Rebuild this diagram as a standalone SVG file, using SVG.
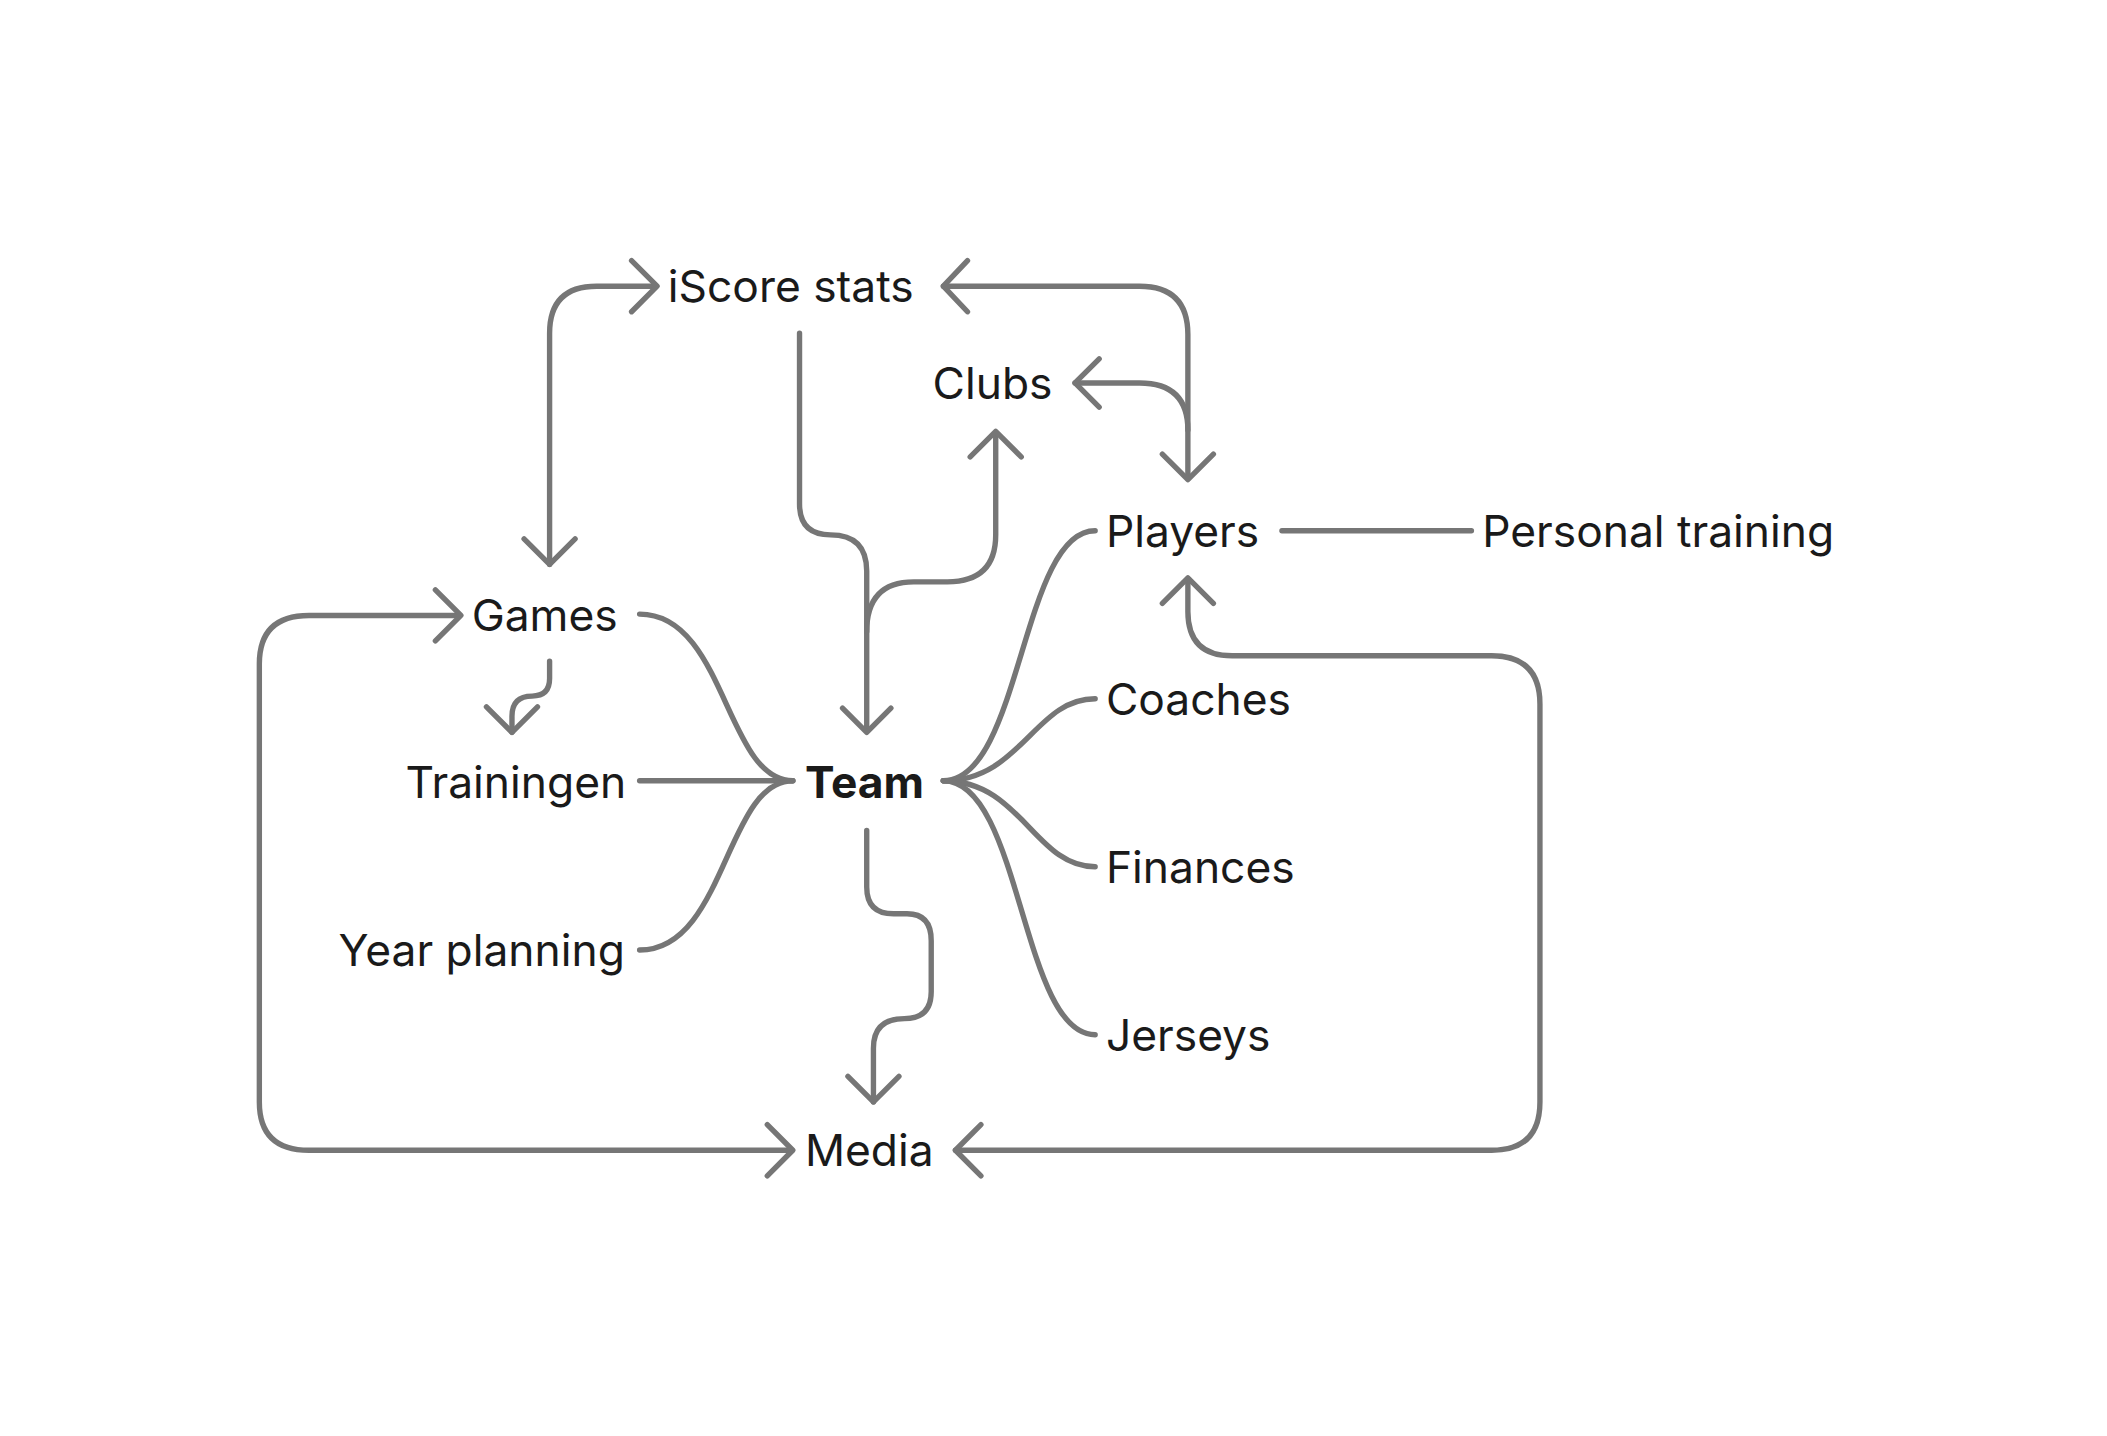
<svg xmlns="http://www.w3.org/2000/svg" width="2107" height="1436" viewBox="0 0 2107 1436">
<style>
.c{fill:none;stroke:#767676;stroke-width:4;stroke-linecap:round;stroke-linejoin:round}
text{font-family:Inter,"Noto Sans",sans-serif;font-size:33px;fill:#1a1a1a;dominant-baseline:central}
.b{font-weight:bold}
</style>
<rect width="2107" height="1436" fill="#fff"/>
<g transform="scale(1.34375)">
<g id="connectors" class="c">
<path d="M409,420 L409,248 Q409,213 444,213 L488,213"/>
<polyline points="470,194 489,213 470,232"/>
<polyline points="390,401 409,420 428,401"/>
<path d="M702,213 L848,213 Q884,213 884,249 L884,356"/>
<polyline points="720,194 702,213 720,232"/>
<polyline points="865,338 884,357 903,338"/>
<path d="M800,285 L848,285 Q884,285 884,320"/>
<polyline points="818,267 800,285 818,303"/>
<path d="M595,248 L595,375 Q595,398 618,398 Q645,398 645,425 L645,544"/>
<polyline points="627,527 645,545 663,527"/>
<path d="M645,470 Q645,433 680,433 L705,433 Q741,433 741,398 L741,322"/>
<polyline points="722,340 741,321 760,340"/>
<path d="M409,492 L409,505 Q409,518 396,518 Q381,518 381,533 L381,545"/>
<polyline points="362,526 381,545 400,526"/>
<path d="M476,457 C540,457 540,581 590,581"/>
<path d="M476,581 L590,581"/>
<path d="M476,707 C540,707 540,581 590,581"/>
<path d="M702,581 C760,581 760,395 815,395"/>
<path d="M702,581 C760,581 770,520 815,520"/>
<path d="M702,581 C760,581 770,645 815,645"/>
<path d="M702,581 C760,581 760,770 815,770"/>
<path d="M954,395 L1095,395"/>
<path d="M884,432 L884,455 Q884,488 917,488 L1110,488 Q1146,488 1146,524 L1146,820 Q1146,856 1110,856 L711,856"/>
<polyline points="865,449 884,430 903,449"/>
<polyline points="730,837 711,856 730,875"/>
<path d="M589,856 L230,856 Q193,856 193,820 L193,494 Q193,458 230,458 L342,458"/>
<polyline points="571,837 590,856 571,875"/>
<polyline points="324,439 343,458 324,477"/>
<path d="M645,618 L645,660 Q645,680 665,680 L675,680 Q693,680 693,700 L693,738 Q693,758 673,758 Q650,758 650,780 L650,820"/>
<polyline points="631,801 650,820 669,801"/>
</g>
<g id="iscore"><text x="497" y="213">iScore stats</text></g>
<g id="clubs"><text x="694" y="285">Clubs</text></g>
<g id="players"><text x="823" y="395">Players</text></g>
<g id="personal"><text x="1103" y="395">Personal training</text></g>
<g id="games"><text x="351" y="458">Games</text></g>
<g id="trainingen"><text x="466" y="582" text-anchor="end">Trainingen</text></g>
<g id="team"><text class="b" x="599" y="582">Team</text></g>
<g id="coaches"><text x="823" y="520">Coaches</text></g>
<g id="finances"><text x="823" y="645">Finances</text></g>
<g id="jerseys"><text x="823" y="770">Jerseys</text></g>
<g id="year"><text x="465" y="707" text-anchor="end">Year planning</text></g>
<g id="media"><text x="599" y="856">Media</text></g>
</g>
</svg>
